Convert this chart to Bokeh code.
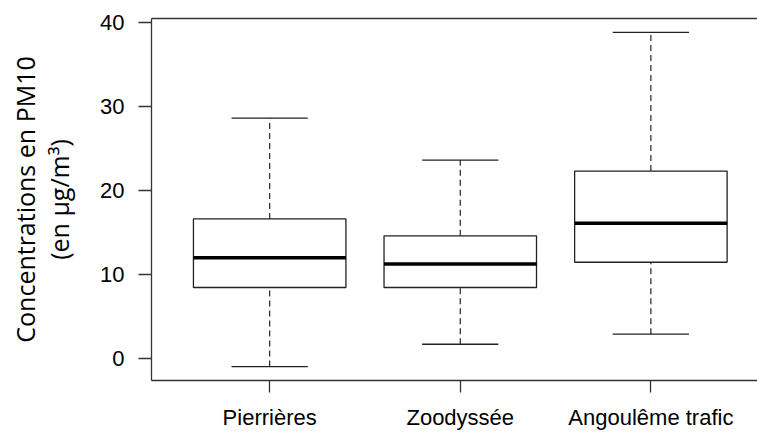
from bokeh.plotting import figure
from bokeh.models import Range1d, FixedTicker, LinearAxis, ColumnDataSource
from bokeh.embed import file_html
from bokeh.resources import INLINE

# ---- data ----
categories = ["Pierrières", "Zoodyssée", "Angoulême trafic"]
lower_whisker = [-0.95, 1.7, 2.9]
q1 = [8.45, 8.45, 11.45]
median = [12.0, 11.25, 16.1]
q3 = [16.6, 14.6, 22.3]
upper_whisker = [28.6, 23.6, 38.8]
y_ticks = [0, 10, 20, 30, 40]
y_title = "Concentrations en PM10\n(en µg/m³)"

# ---- layout constants ----
W, H = 757, 432
ML, MT, MB = 151, 18, 51
X0, X1 = 0.38, 0.38 + 606 / 190.6
Y0, Y1 = -2.61, 40.44
BOXW = 0.8
CAPW = 0.4
LINE = "#222222"

xs = list(range(1, len(categories) + 1))
src = ColumnDataSource(dict(
    x=xs,
    left=[x - BOXW / 2 for x in xs],
    right=[x + BOXW / 2 for x in xs],
    cl=[x - CAPW / 2 for x in xs],
    cr=[x + CAPW / 2 for x in xs],
    lo=lower_whisker, q1=q1, med=median, q3=q3, hi=upper_whisker,
))

p = figure(width=W, height=H, output_backend="svg", toolbar_location=None,
           x_range=Range1d(X0, X1), y_range=Range1d(Y0, Y1),
           min_border_left=ML, min_border_right=0, min_border_top=MT,
           min_border_bottom=MB, outline_line_color=None,
           background_fill_color="white", border_fill_color="white")
p.grid.visible = False

# whiskers
p.segment(x0="x", y0="q3", x1="x", y1="hi", source=src, line_color=LINE,
          line_width=1.2, line_dash="6 4")
p.segment(x0="x", y0="lo", x1="x", y1="q1", source=src, line_color=LINE,
          line_width=1.2, line_dash="6 4")
# caps
p.segment(x0="cl", y0="hi", x1="cr", y1="hi", source=src, line_color=LINE, line_width=1.3)
p.segment(x0="cl", y0="lo", x1="cr", y1="lo", source=src, line_color=LINE, line_width=1.3)
# boxes
p.quad(left="left", right="right", bottom="q1", top="q3", source=src,
       fill_color="white", line_color=LINE, line_width=1.3)
# medians
p.segment(x0="left", y0="med", x1="right", y1="med", source=src,
          line_color="black", line_width=3.5)

# axes
tick_font = "Liberation Sans"
p.yaxis.ticker = FixedTicker(ticks=y_ticks)
p.yaxis.major_tick_out = 13
p.yaxis.major_tick_in = 0
p.yaxis.minor_tick_out = 0
p.yaxis.minor_tick_in = 0
p.yaxis.major_label_standoff = 14
p.yaxis.major_label_text_font = tick_font
p.yaxis.major_label_text_font_size = "22px"
p.yaxis.major_label_text_color = "black"
p.yaxis.axis_line_color = "#333333"
p.yaxis.axis_line_width = 1.3
p.yaxis.major_tick_line_color = "#333333"
p.yaxis.major_tick_line_width = 1.3
p.yaxis.axis_label = y_title
p.yaxis.axis_label_text_font = "Open Sans"
p.yaxis.axis_label_text_font_size = "25px"
p.yaxis.axis_label_text_font_style = "normal"
p.yaxis.axis_label_text_color = "black"
p.yaxis.axis_label_text_line_height = 1.0
p.yaxis.axis_label_standoff = 21

p.xaxis.ticker = FixedTicker(ticks=xs)
p.xaxis.major_label_overrides = {x: c for x, c in zip(xs, categories)}
p.xaxis.major_tick_out = 12
p.xaxis.major_tick_in = 0
p.xaxis.minor_tick_out = 0
p.xaxis.minor_tick_in = 0
p.xaxis.major_label_standoff = 12
p.xaxis.major_label_text_font = tick_font
p.xaxis.major_label_text_font_size = "22px"
p.xaxis.major_label_text_color = "black"
p.xaxis.axis_line_color = "#333333"
p.xaxis.axis_line_width = 1.3
p.xaxis.major_tick_line_color = "#333333"
p.xaxis.major_tick_line_width = 1.3

top = LinearAxis(ticker=FixedTicker(ticks=[]), major_tick_out=0, major_tick_in=0,
                 minor_tick_out=0, minor_tick_in=0, major_label_text_font_size="0px",
                 axis_line_color="#333333", axis_line_width=1.3, major_label_standoff=0)
p.add_layout(top, "above")

open("out.html", "w").write(file_html(p, INLINE))
